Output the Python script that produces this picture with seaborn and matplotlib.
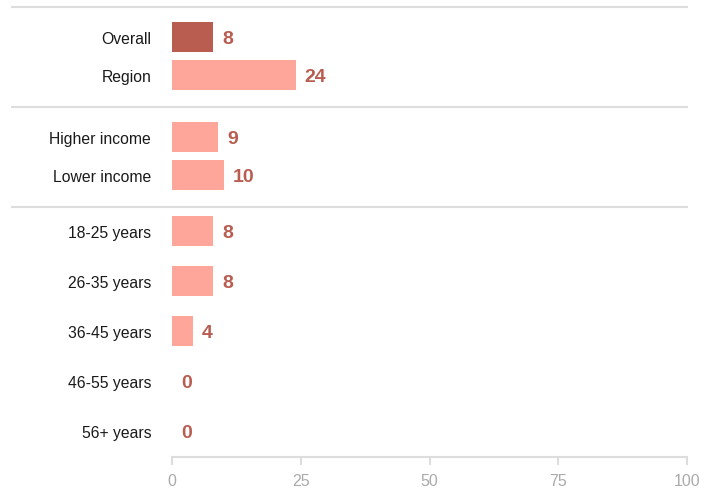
import matplotlib
matplotlib.use("Agg")
import matplotlib.pyplot as plt
import seaborn as sns
import pandas as pd

# ---- data ----
categories = ["Overall", "Region", "Higher income", "Lower income",
              "18-25 years", "26-35 years", "36-45 years", "46-55 years", "56+ years"]
values = [8, 24, 9, 10, 8, 8, 4, 0, 0]
kinds = ["overall", "other", "other", "other", "other", "other", "other", "other", "other"]
group_sizes = [2, 2, 5]
x_ticks = [0, 25, 50, 75, 100]

# ---- layout (pixel-based rows, top = 0) ----
W, H = 717, 489
group_first_row = [38, 138, 232]
group_step = [38, 38, 50]
separators_y = [8, 107.5, 207.5]
axis_y = 458
x0_px, x1_px = 172, 687

positions = []
for first, step, n in zip(group_first_row, group_step, group_sizes):
    positions += [first + i * step for i in range(n)]

df = pd.DataFrame({"cat": categories, "value": values, "kind": kinds, "pos": positions})

sns.set_theme(style="white")
plt.rcParams["font.family"] = ["Liberation Sans", "DejaVu Sans"]

fig = plt.figure(figsize=(W / 100, H / 100), dpi=100)
ax = fig.add_axes([x0_px / W, (H - axis_y) / H, (x1_px - x0_px) / W, axis_y / H])

palette = {"overall": "#b95d51", "other": "#ffa69b"}
sns.barplot(data=df, x="value", y="pos", hue="kind", palette=palette, orient="y",
            native_scale=True, dodge=False, legend=False, saturation=1,
            linewidth=0, ax=ax)

ax.set_xlim(0, 100)
ax.set_ylim(axis_y, 0)
ax.set_xlabel("")
ax.set_ylabel("")

# y labels
ax.set_yticks(positions)
ax.set_yticklabels(categories, fontsize=11.3, color="#1a1a1a")
ax.tick_params(axis="y", length=0, pad=15)

# x axis
ax.set_xticks(x_ticks)
ax.set_xticklabels([str(t) for t in x_ticks], fontsize=11.5, color="#aaaaaa")
ax.tick_params(axis="x", direction="out", length=6, width=1.5, color="#dddddd", pad=5.5, bottom=True)

for side in ["top", "right", "left"]:
    ax.spines[side].set_visible(False)
ax.spines["bottom"].set_color("#dddddd")
ax.spines["bottom"].set_linewidth(1.5)

# value labels
for v, p in zip(values, positions):
    ax.annotate(str(v), xy=(v, p), xytext=(6.5, -1.2), textcoords="offset points",
                ha="left", va="center", fontsize=14, fontweight="bold", color="#b95d51")

# group separators
px_per_unit = (x1_px - x0_px) / 100
sx0 = (11 - x0_px) / px_per_unit
sx1 = (688 - x0_px) / px_per_unit
for sy in separators_y:
    ax.plot([sx0, sx1], [sy, sy], color="#dddddd", lw=1.5, clip_on=False, solid_capstyle="butt")

fig.savefig("out.png", dpi=100)
